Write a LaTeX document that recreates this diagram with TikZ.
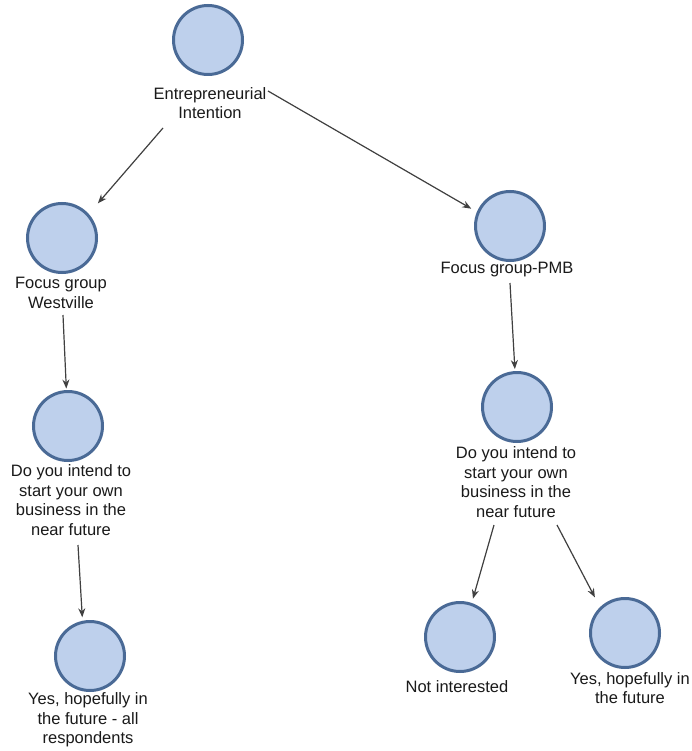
\documentclass[tikz,border=0pt]{standalone}
\usepackage{fontspec}
\setmainfont{Liberation Sans}
\usetikzlibrary{arrows.meta}
\definecolor{ringblue}{RGB}{74,106,150}
\definecolor{dotblue}{RGB}{190,208,236}
\definecolor{linkgray}{RGB}{64,64,64}
\definecolor{textgray}{RGB}{26,26,26}
\tikzset{
  concept/.style={circle, draw=ringblue, fill=dotblue, line width=3pt,
    minimum size=69pt, inner sep=0pt},
  caption/.style={align=center, inner sep=0pt, text=textgray,
    font=\fontsize{16.5}{19.5}\selectfont},
  link/.style={draw=linkgray, line width=1.2pt,
    -{Stealth[length=9pt,width=7pt]}}
}
\begin{document}
\begin{tikzpicture}[x=1pt,y=-1pt]
\useasboundingbox[fill=white] (0,0) rectangle (691,751);

% concept circles
\node[concept] (ei) at (208,40)  {};
\node[concept] (fw) at (62,238)  {};
\node[concept] (fp) at (510,226) {};
\node[concept] (dl) at (68,426)  {};
\node[concept] (dr) at (517,407) {};
\node[concept] (ni) at (460,637) {};
\node[concept] (yr) at (625,633) {};
\node[concept] (yl) at (90,656)  {};

% captions
\node[caption] (ei-l) at (210,103) {Entrepreneurial\\Intention};
\node[caption] (fw-l) at (61,293)  {Focus group\\Westville};
\node[caption] (fp-l) at (507,270) {Focus group-PMB};
\node[caption] (dl-l) at (71,500)  {Do you intend to\\start your own\\business in the\\near future};
\node[caption] (dr-l) at (516,482) {Do you intend to\\start your own\\business in the\\near future};
\node[caption] (ni-l) at (457,687) {Not interested};
\node[caption] (yr-l) at (630,688) {Yes, hopefully in\\the future};
\node[caption] (yl-l) at (88,720)  {Yes, hopefully in\\the future - all\\respondents};

% links
\draw[link, shorten >=14pt]  ([xshift=-47pt,yshift=-25pt]ei-l.center) -- (fw.42);
\draw[link, shorten >=6.5pt] ([xshift=58pt,yshift=12pt]ei-l.center) -- (fp.157);
\draw[link, shorten >=1.5pt] ([xshift=2pt,yshift=-22pt]fw-l.center) -- (dl);
\draw[link, shorten >=3.5pt] ([xshift=7pt,yshift=-45pt]dl-l.center) -- (yl.102);
\draw[link, shorten >=2pt]   ([xshift=3pt,yshift=-13pt]fp-l.center) -- (dr);
\draw[link, shorten >=4.5pt] ([xshift=-22pt,yshift=-43pt]dr-l.center) -- (ni.71);
\draw[link, shorten >=11pt]  ([xshift=41pt,yshift=-43pt]dr-l.center) -- (yr.134);
\end{tikzpicture}
\end{document}
